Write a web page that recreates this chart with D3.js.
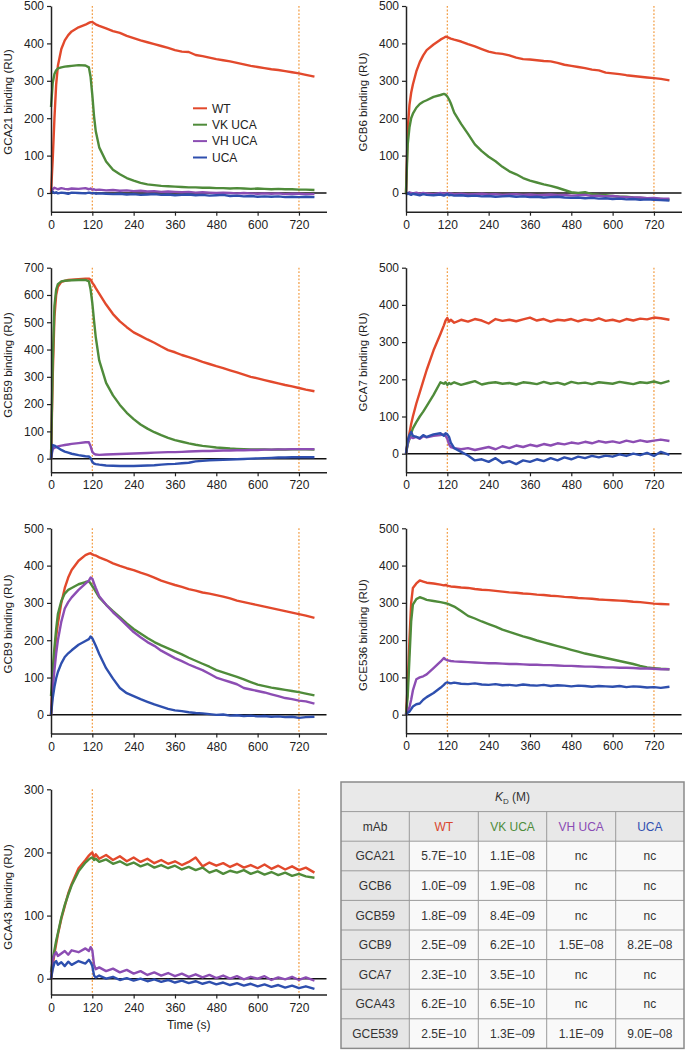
<!DOCTYPE html>
<html>
<head>
<meta charset="utf-8">
<script src="https://cdn.jsdelivr.net/npm/d3@7"></script>
<style>
  html, body { margin: 0; padding: 0; background: #fff; }
  svg { display: block; }
  text { font-family: "Liberation Sans", Arial, Helvetica, sans-serif; }
</style>
</head>
<body>
<svg id="chart" width="685" height="1051"></svg>
<script>
// ---------------- DATA ----------------
const T = [0,5,10,15,20,30,40,50,60,80,100,110,115,120,125,130,140,160,180,200,220,240,260,280,300,320,340,360,380,400,420,440,460,480,500,520,540,560,580,600,620,640,660,680,700,720,740,765];

const seriesNames = ["WT", "VK UCA", "VH UCA", "UCA"];
const xTicks = [0,120,240,360,480,600,720];

// GCA21
const gca21WT = [0,90,200,290,340,385,408,422,432,443,450,455,457,457,454,451,447,440,433,428,420,414,408,403,398,393,388,382,378,377,369,366,362,358,355,352,348,344,340,337,334,331,329,326,323,320,316,311];
const gca21VK = [230,295,318,328,333,336,338,339,340,342,341,336,310,262,205,165,122,84,62,50,40,33,27,23,21,19,18,17,16,15,15,14,14,13,13,12,13,12,11,12,11,10,11,10,10,9,9,8];
const gca21VH = [0,10,14,12,10,13,11,10,12,11,13,10,12,9,10,8,9,7,8,6,7,5,6,4,5,3,4,3,2,3,1,2,1,0,1,0,-1,0,-1,-2,-1,-2,-1,-3,-2,-2,-3,-3];
const gca21UCA = [0,3,0,2,-1,1,0,-2,1,0,-1,1,0,-1,0,-2,-1,-2,-3,-2,-4,-3,-5,-4,-3,-5,-4,-6,-5,-4,-6,-5,-7,-6,-5,-8,-7,-9,-8,-10,-9,-10,-9,-11,-10,-11,-10,-11];

// GCB6
const gcb6WT = [0,170,235,268,290,325,350,368,382,397,410,415,418,417,415,413,410,405,398,392,385,378,374,372,368,362,358,357,355,353,352,348,343,340,337,334,330,328,322,320,318,315,313,311,309,307,305,301];
const gcb6VK = [0,130,175,200,212,228,238,244,248,257,262,265,263,258,250,240,215,185,158,130,112,97,85,70,58,50,40,33,28,23,19,14,8,2,0,2,-3,-5,-6,-8,-10,-10,-12,-13,-14,-15,-16,-18];
const gcb6VH = [0,-2,2,0,-1,1,-2,0,-1,-3,0,-2,-1,0,-2,-1,-3,-2,-4,-3,-2,-4,-3,-5,-4,-3,-5,-4,-6,-5,-4,-6,-5,-7,-6,-5,-8,-7,-9,-8,-10,-11,-12,-12,-14,-13,-15,-15];
const gcb6UCA = [-5,0,-3,-5,-2,-4,-6,-3,-5,-6,-4,-7,-5,-3,-6,-5,-7,-6,-8,-7,-9,-8,-10,-9,-8,-10,-9,-11,-10,-12,-11,-10,-12,-13,-12,-14,-13,-15,-14,-16,-15,-17,-16,-18,-17,-18,-19,-20];

// GCB59
const gcb59WT = [0,300,520,600,630,648,652,655,656,658,660,660,656,645,636,625,605,565,530,503,482,463,450,437,425,411,398,390,380,372,364,355,347,339,332,324,316,308,300,294,288,282,276,270,265,259,253,247];
const gcb59VK = [0,350,560,620,640,650,652,653,654,655,655,650,620,570,505,445,360,278,232,197,168,145,125,110,97,86,76,68,62,56,51,47,44,41,39,37,36,35,34,34,34,33,34,33,34,34,34,33];
const gcb59VH = [0,35,40,42,45,48,50,52,54,57,60,60,45,25,18,15,14,15,16,17,18,19,20,21,22,23,24,24,25,26,27,28,28,29,30,30,31,31,32,32,33,33,34,34,35,35,35,35];
const gcb59UCA = [0,50,48,44,40,32,26,22,18,13,9,8,2,-12,-18,-20,-22,-25,-26,-27,-27,-27,-26,-25,-24,-22,-20,-19,-17,-15,-10,-8,-6,-5,-4,-3,-2,-1,0,1,2,3,4,4,5,5,5,5];

// GCA7
const gca7WT = [0,30,55,80,100,135,165,195,225,278,322,345,358,365,355,360,352,360,355,362,358,350,362,357,360,356,361,366,358,362,355,360,358,362,356,361,358,364,357,360,355,362,358,363,361,366,364,360];
const gca7VK = [0,25,40,55,68,85,100,113,128,158,192,188,192,185,190,187,192,185,190,195,186,190,192,188,190,186,192,190,187,193,188,191,186,193,189,191,187,192,190,188,193,190,187,192,190,194,189,196];
const gca7VH = [0,30,40,45,42,45,40,47,44,48,50,52,48,40,25,18,15,12,15,10,14,18,12,20,15,22,18,24,20,26,22,28,25,30,27,32,28,34,30,33,29,35,31,36,32,35,38,34];
const gca7UCA = [0,35,50,58,48,45,42,50,45,52,55,48,55,52,45,30,15,5,-5,-18,-15,-22,-12,-25,-20,-28,-18,-22,-15,-20,-12,-18,-10,-15,-8,-12,-6,-10,-5,-8,-2,-6,0,-4,2,-6,5,-3];

// GCB9
const gcb9WT = [0,100,160,210,245,300,340,368,388,413,428,432,433,430,428,427,422,415,406,399,393,388,381,375,368,360,354,348,343,337,333,328,325,321,317,312,306,302,298,294,290,286,282,278,274,270,266,260];
const gcb9VK = [50,120,180,230,270,305,325,335,340,350,356,358,352,345,338,330,315,295,278,262,245,230,218,206,195,186,178,170,162,153,145,137,129,120,114,108,102,95,88,81,77,73,70,67,64,61,57,52];
const gcb9VH = [0,70,120,165,200,250,285,302,315,335,352,360,368,365,352,340,318,295,275,258,240,222,208,195,185,172,162,152,144,135,127,120,110,100,94,88,82,72,68,64,60,55,50,45,42,38,36,30];
const gcb9UCA = [0,45,75,98,115,138,155,165,173,188,198,203,210,205,195,185,163,125,97,72,58,50,42,35,28,22,16,12,10,7,5,4,2,0,1,-2,-1,-3,-2,-4,-3,-5,-4,-6,-5,-8,-6,-5];

// GCE536
const gce536WT = [0,80,200,300,340,352,360,357,354,352,349,347,348,346,345,344,343,341,340,337,335,334,332,330,328,327,325,324,322,321,319,318,316,315,313,312,311,309,308,307,306,305,303,302,300,298,297,296];
const gce536VK = [0,50,150,250,295,310,315,312,308,305,302,300,299,298,296,294,290,278,265,258,250,243,236,228,222,216,210,205,199,194,189,184,179,174,169,164,160,156,152,148,144,140,136,131,127,125,123,122];
const gce536VH = [0,10,20,40,65,95,100,103,108,125,142,152,148,146,145,144,143,142,141,140,139,138,138,137,136,136,135,134,134,133,133,132,131,131,130,129,129,128,127,127,126,126,125,124,124,123,122,122];
const gce536UCA = [0,5,8,15,22,28,30,40,47,58,72,80,85,87,85,84,86,83,82,84,81,80,82,79,80,78,81,79,78,80,77,79,78,76,78,77,75,77,76,75,77,74,76,75,73,74,72,75];

// GCA43
const gca43WT = [0,20,40,55,70,95,115,135,150,175,188,195,198,200,192,197,190,196,188,194,186,192,185,190,183,188,182,186,180,185,192,178,184,179,183,177,182,176,180,175,181,174,179,173,178,172,176,168];
const gca43VK = [10,30,45,60,72,97,117,133,148,170,184,189,191,192,188,190,185,189,182,186,180,184,178,182,176,180,175,179,173,177,172,176,168,172,166,171,168,172,166,170,165,169,164,168,163,166,162,160];
const gca43VH = [0,30,38,42,36,40,44,38,45,42,48,44,50,45,22,15,18,12,16,10,14,8,12,6,10,5,9,4,8,3,7,2,6,1,5,0,4,-1,3,0,4,-2,2,-1,3,-2,2,-3];
const gca43UCA = [0,15,25,28,22,26,20,27,22,28,24,30,26,20,5,2,5,0,3,-2,1,-3,0,-4,-1,-5,-2,-6,-3,-7,-4,-8,-5,-9,-6,-10,-7,-11,-8,-12,-9,-13,-10,-14,-11,-15,-12,-16];

// K_D table
const tableCols = ["WT", "VK UCA", "VH UCA", "UCA"];
const mAbs = ["GCA21", "GCB6", "GCB59", "GCB9", "GCA7", "GCA43", "GCE539"];
const kdWT  = ["5.7E\u221210", "1.0E\u221209", "1.8E\u221209", "2.5E\u221209", "2.3E\u221210", "6.2E\u221210", "2.5E\u221210"];
const kdVK  = ["1.1E\u221208", "1.9E\u221208", "8.4E\u221209", "6.2E\u221210", "3.5E\u221210", "6.5E\u221210", "1.3E\u221209"];
const kdVH  = ["nc", "nc", "nc", "1.5E\u221208", "nc", "nc", "1.1E\u221209"];
const kdUCA = ["nc", "nc", "nc", "8.2E\u221208", "nc", "nc", "9.0E\u221208"];

// ---------------- STYLE / LAYOUT ----------------
const colors = ["#e2492c", "#4f8b3a", "#8c4db3", "#2e4fae"];
const textColors = ["#d9462e", "#4e8c3a", "#8a4bb5", "#3050b0"];
const FONT = '"Liberation Sans", Arial, Helvetica, sans-serif';

const panels = [
  { label: "GCA21",  data: [gca21WT, gca21VK, gca21VH, gca21UCA],   ax: 51,  top: 6,     bottom: 211.7, ymin: -50, ymax: 500, labelY: 102, legend: true },
  { label: "GCB6",   data: [gcb6WT, gcb6VK, gcb6VH, gcb6UCA],       ax: 406, top: 6,     bottom: 211.7, ymin: -50, ymax: 500, labelY: 102 },
  { label: "GCB59",  data: [gcb59WT, gcb59VK, gcb59VH, gcb59UCA],   ax: 51,  top: 267.7, bottom: 472.3, ymin: -50, ymax: 700, labelY: 365 },
  { label: "GCA7",   data: [gca7WT, gca7VK, gca7VH, gca7UCA],       ax: 406, top: 267.7, bottom: 472.3, ymin: -50, ymax: 500, labelY: 362 },
  { label: "GCB9",   data: [gcb9WT, gcb9VK, gcb9VH, gcb9UCA],       ax: 51,  top: 528.3, bottom: 733.5, ymin: -50, ymax: 500, labelY: 624 },
  { label: "GCE536", data: [gce536WT, gce536VK, gce536VH, gce536UCA], ax: 406, top: 528.3, bottom: 733.3, ymin: -50, ymax: 500, labelY: 635 },
  { label: "GCA43",  data: [gca43WT, gca43VK, gca43VH, gca43UCA],   ax: 51,  top: 789.3, bottom: 994.5, ymin: -25, ymax: 300, labelY: 897, timeLabel: true }
];

const svg = d3.select("#chart");

panels.forEach(p => {
  const x = d3.scaleLinear().domain([0, 800]).range([p.ax, p.ax + 275.5]);
  const y = d3.scaleLinear().domain([p.ymin, p.ymax]).range([p.bottom, p.top]);
  const g = svg.append("g");

  // dotted injection markers
  [120, 720].forEach(t => {
    g.append("line")
      .attr("x1", x(t)).attr("x2", x(t))
      .attr("y1", p.top).attr("y2", p.bottom)
      .attr("stroke", "#f29a3e").attr("stroke-width", 1.2)
      .attr("stroke-dasharray", "1.8,1.8");
  });

  // zero line
  g.append("line")
    .attr("x1", x(0)).attr("x2", x(800))
    .attr("y1", y(0)).attr("y2", y(0))
    .attr("stroke", "#111").attr("stroke-width", 1.5);

  // series
  const line = d3.line().x((d, i) => x(T[i])).y(d => y(d));
  p.data.forEach((vals, k) => {
    g.append("path")
      .datum(vals)
      .attr("d", line)
      .attr("fill", "none")
      .attr("stroke", colors[k])
      .attr("stroke-width", 2.4)
      .attr("stroke-linejoin", "round");
  });

  // axes
  const yAxis = d3.axisLeft(y)
    .tickValues(d3.range(0, p.ymax + 1, 100))
    .tickSize(4).tickSizeOuter(0).tickPadding(3);
  const yg = g.append("g").attr("transform", `translate(${p.ax},0)`).call(yAxis);

  const xAxis = d3.axisBottom(x)
    .tickValues(xTicks)
    .tickSize(4).tickSizeOuter(0).tickPadding(4.5);
  const xg = g.append("g").attr("transform", `translate(0,${p.bottom})`).call(xAxis);

  [yg, xg].forEach(a => {
    a.selectAll("path.domain").attr("stroke", "#222").attr("stroke-width", 1.5);
    a.selectAll(".tick line").attr("stroke", "#222").attr("stroke-width", 1.2);
    a.selectAll(".tick text")
      .attr("fill", "#222")
      .style("font-family", FONT)
      .style("font-size", "12px");
  });

  // y-axis title
  g.append("text")
    .attr("transform", `translate(${p.ax - 39.5},${p.labelY}) rotate(-90)`)
    .attr("text-anchor", "middle")
    .attr("fill", "#222")
    .style("font-family", FONT)
    .style("font-size", "11.5px")
    .text(`${p.label} binding (RU)`);

  if (p.timeLabel) {
    g.append("text")
      .attr("x", (x(0) + x(800)) / 2)
      .attr("y", p.bottom + 34.5)
      .attr("text-anchor", "middle")
      .attr("fill", "#222")
      .style("font-family", FONT)
      .style("font-size", "12px")
      .text("Time (s)");
  }

  if (p.legend) {
    const lg = g.append("g");
    seriesNames.forEach((nm, k) => {
      const cy = 108.3 + k * 16.4;
      lg.append("line")
        .attr("x1", 193).attr("x2", 207)
        .attr("y1", cy).attr("y2", cy)
        .attr("stroke", colors[k]).attr("stroke-width", 2);
      lg.append("text")
        .attr("x", 212).attr("y", cy)
        .attr("dy", "0.36em")
        .attr("fill", "#222")
        .style("font-family", FONT)
        .style("font-size", "12px")
        .text(nm);
    });
  }
});

// ---------------- TABLE ----------------
const colX = [341, 409.3, 478.3, 546.7, 615.7, 684];
const rowY0 = 782, rowH = 29.6;
const tg = svg.append("g");
const nRows = 2 + mAbs.length;
const tableBottom = rowY0 + nRows * rowH;

// backgrounds
tg.append("rect").attr("x", colX[0]).attr("y", rowY0).attr("width", colX[5] - colX[0]).attr("height", rowH)
  .attr("fill", "#e9e9e9");
tg.append("rect").attr("x", colX[0]).attr("y", rowY0 + rowH).attr("width", colX[5] - colX[0]).attr("height", rowH)
  .attr("fill", "#e8e8e8");
tg.append("rect").attr("x", colX[0]).attr("y", rowY0 + 2 * rowH).attr("width", colX[1] - colX[0]).attr("height", mAbs.length * rowH)
  .attr("fill", "#e6e6e6");
tg.append("rect").attr("x", colX[1]).attr("y", rowY0 + 2 * rowH).attr("width", colX[5] - colX[1]).attr("height", mAbs.length * rowH)
  .attr("fill", "#f9f9f9");

// grid lines
for (let r = 1; r < nRows; r++) {
  tg.append("line").attr("x1", colX[0]).attr("x2", colX[5])
    .attr("y1", rowY0 + r * rowH).attr("y2", rowY0 + r * rowH)
    .attr("stroke", "#9a9a9a").attr("stroke-width", 1);
}
for (let c = 1; c < 5; c++) {
  tg.append("line").attr("x1", colX[c]).attr("x2", colX[c])
    .attr("y1", rowY0 + rowH).attr("y2", tableBottom)
    .attr("stroke", "#9a9a9a").attr("stroke-width", 1);
}
tg.append("rect").attr("x", colX[0]).attr("y", rowY0).attr("width", colX[5] - colX[0]).attr("height", tableBottom - rowY0)
  .attr("fill", "none").attr("stroke", "#8a8a8a").attr("stroke-width", 1.5);

// header K_D (M)
const kd = tg.append("text")
  .attr("x", (colX[0] + colX[5]) / 2).attr("y", rowY0 + rowH / 2)
  .attr("dy", "0.36em").attr("text-anchor", "middle")
  .attr("fill", "#333").style("font-family", FONT).style("font-size", "12px");
kd.append("tspan").style("font-style", "italic").text("K");
kd.append("tspan").attr("dy", "3").style("font-size", "8px").text("D");
kd.append("tspan").attr("dy", "-3").text(" (M)");

function cellText(ci, ri, txt, fill) {
  tg.append("text")
    .attr("x", (colX[ci] + colX[ci + 1]) / 2)
    .attr("y", rowY0 + ri * rowH + rowH / 2)
    .attr("dy", "0.36em").attr("text-anchor", "middle")
    .attr("fill", fill || "#333")
    .style("font-family", FONT).style("font-size", "12px")
    .text(txt);
}
cellText(0, 1, "mAb");
tableCols.forEach((c, i) => cellText(i + 1, 1, c, textColors[i]));
const kdCols = [kdWT, kdVK, kdVH, kdUCA];
mAbs.forEach((m, r) => {
  cellText(0, r + 2, m);
  kdCols.forEach((col, c) => cellText(c + 1, r + 2, col[r]));
});
</script>
</body>
</html>
